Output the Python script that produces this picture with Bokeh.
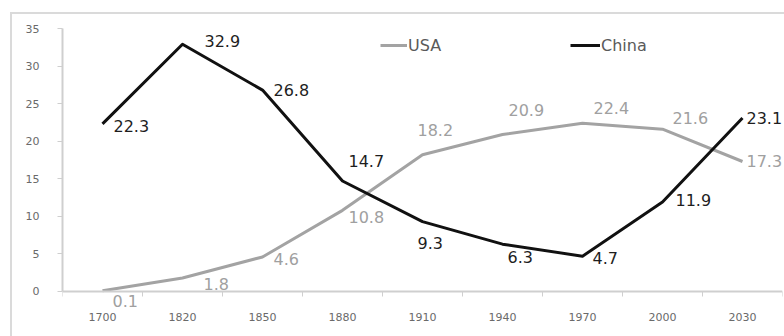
from bokeh.plotting import figure
from bokeh.models import (ColumnDataSource, Range1d, FixedTicker, Legend, LegendItem,
                          CustomJSTickFormatter, Label)
from bokeh.embed import file_html
from bokeh.resources import INLINE

# Share of world GDP (%) by year
years = ["1700", "1820", "1850", "1880", "1910", "1940", "1970", "2000", "2030"]
usa = [0.1, 1.8, 4.6, 10.8, 18.2, 20.9, 22.4, 21.6, 17.3]
china = [22.3, 32.9, 26.8, 14.7, 9.3, 6.3, 4.7, 11.9, 23.1]
y_ticks = [0, 5, 10, 15, 20, 25, 30, 35]

# value-label placement, pixels (right, up) from each point
usa_dx = [10, 21, 11, 6, -5, 6, 11, 10, 4]
usa_dy = [-10, -6, -2, -7, 25, 24, 15, 11, 0]
china_dx = [11, 22, 11, 6, -5, 5, 10, 13, 4]
china_dy = [-2, 3, 0, 20, -21, -13, -2, 2, 0]

FONT_NAME = "DejaVu Sans"
USA_COLOR = "#a3a3a3"
USA_TEXT = "#a0a0a0"
CHINA_COLOR = "#111111"
CHINA_TEXT = "#1e1e1e"
AXIS_COLOR = "#cfcfcf"

# the plotting area runs below zero so labels under the baseline stay visible;
# the x axis itself sits at zero
Y_VIEW = (-5.99, 35)

# categories sit at the middle of each unit slot
xpos = [i + 0.5 for i in range(len(years))]

usa_src = ColumnDataSource(dict(x=xpos, y=usa))
china_src = ColumnDataSource(dict(x=xpos, y=china))

p = figure(width=772, height=322,
           x_range=Range1d(0, len(years)), y_range=Range1d(*Y_VIEW),
           output_backend="svg", toolbar_location=None,
           min_border_left=50, min_border_right=2,
           min_border_top=14, min_border_bottom=0)
p.margin = (14, 0, 0, 12)
p.styles = {"outline": "2px solid #dadada"}
p.outline_line_color = None
p.background_fill_color = "white"
p.border_fill_color = "white"
p.xgrid.grid_line_color = None
p.ygrid.grid_line_color = None

usa_line = p.line("x", "y", source=usa_src, line_color=USA_COLOR, line_width=3,
                  line_join="round")
china_line = p.line("x", "y", source=china_src, line_color=CHINA_COLOR, line_width=3,
                    line_join="round")

# value labels, one annotation per point
for vals, dxs, dys, color in ((usa, usa_dx, usa_dy, USA_TEXT),
                              (china, china_dx, china_dy, CHINA_TEXT)):
    for xv, v, dx, dy in zip(xpos, vals, dxs, dys):
        p.add_layout(Label(x=xv, y=v, text=f"{v:g}", x_offset=dx, y_offset=dy,
                           text_font=FONT_NAME, text_font_size="16px",
                           text_color=color, text_align="left",
                           text_baseline="middle"))

# x axis at zero: labels at category centres, tick marks between categories
xa = p.xaxis[0]
xa.fixed_location = 0
xa.ticker = FixedTicker(ticks=xpos, minor_ticks=list(range(len(years) + 1)))
xa.formatter = CustomJSTickFormatter(args=dict(labels=years),
                                     code="return labels[Math.floor(tick)]")
xa.axis_line_color = AXIS_COLOR
xa.axis_line_width = 2
xa.major_tick_line_color = None
xa.major_tick_out = 5
xa.major_tick_in = 0
xa.minor_tick_line_color = AXIS_COLOR
xa.minor_tick_out = 5
xa.minor_tick_in = 0
xa.major_label_standoff = 17
xa.major_label_text_font = FONT_NAME
xa.major_label_text_font_size = "11px"
xa.major_label_text_color = "#6a6a6a"

ya = p.yaxis[0]
ya.bounds = (0, 35)
ya.ticker = FixedTicker(ticks=y_ticks, minor_ticks=[])
ya.axis_line_color = AXIS_COLOR
ya.axis_line_width = 2
ya.major_tick_line_color = AXIS_COLOR
ya.major_tick_out = 5
ya.major_tick_in = 0
ya.minor_tick_line_color = None
ya.major_label_standoff = 18
ya.major_label_text_font = FONT_NAME
ya.major_label_text_font_size = "11px"
ya.major_label_text_color = "#6a6a6a"

# two single-entry legends placed side by side at the top
def make_legend(label, renderer, loc, width):
    lg = Legend(items=[LegendItem(label=label, renderers=[renderer])],
                location=loc, orientation="horizontal",
                glyph_width=width, glyph_height=20, label_standoff=1,
                label_text_font=FONT_NAME, label_text_font_size="16px",
                label_text_color="#5a5a5a",
                padding=0, margin=0, spacing=0,
                border_line_color=None, background_fill_alpha=0)
    p.add_layout(lg, "center")

make_legend("USA", usa_line, (318, 281), 27)
make_legend("China", china_line, (508, 281), 30)

open("out.html", "w").write(file_html(p, INLINE))
